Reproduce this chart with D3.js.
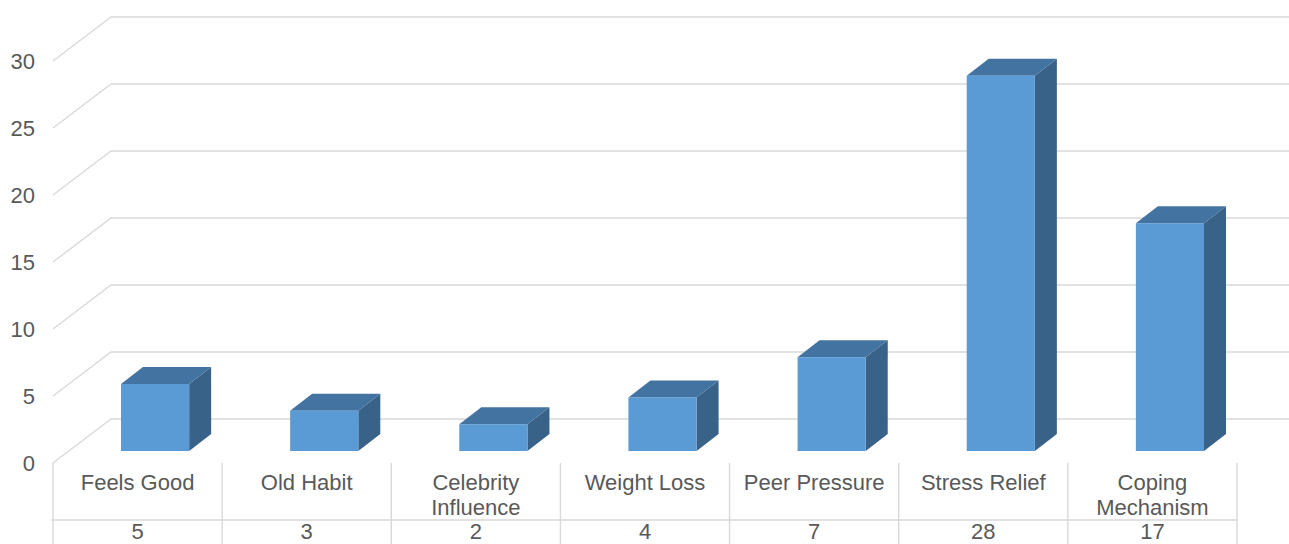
<!DOCTYPE html>
<html>
<head>
<meta charset="utf-8">
<script src="https://cdn.jsdelivr.net/npm/d3@7"></script>
<style>
  html, body { margin: 0; padding: 0; background: #ffffff; }
  svg { display: block; }
  text { font-family: "Liberation Sans", Arial, sans-serif; fill: #595959; }
</style>
</head>
<body>
<svg id="chart" width="1289" height="544"></svg>
<script>
// Reasons for smoking: survey counts
const categories = ["Feels Good", "Old Habit", "Celebrity Influence", "Weight Loss",
                    "Peer Pressure", "Stress Relief", "Coping Mechanism"];
const values = [5, 3, 2, 4, 7, 28, 17];
const yTicks = [0, 5, 10, 15, 20, 25, 30];

const svg = d3.select("#chart");
const W = 1289, H = 544;

// Floor front edge / back wall geometry (oblique 3D projection)
const left = 53, right = 1237;
const floorFrontY = 463;
const depth = { dx: 58, dy: -44 };        // floor front -> back wall
const barFront = { dx: 17.5, dy: -12 };   // floor front -> bar front plane
const barDepth = { dx: 22, dy: -17 };     // bar front -> bar back

const x = d3.scaleBand().domain(categories).range([left, right]).paddingInner(0).paddingOuter(0);
const y = d3.scaleLinear().domain([0, 30]).range([floorFrontY, floorFrontY - 30 * 13.4]);

const grid = svg.append("g").attr("stroke", "#d9d9d9").attr("stroke-width", 1.4).attr("fill", "none");

// Back wall horizontal lines and floor/side diagonals
yTicks.forEach(t => {
  const yf = y(t), yb = yf + depth.dy;
  grid.append("path")
    .attr("d", `M${left},${yf}L${left + depth.dx},${yb}L${W + 10},${yb}`);
});

// Value axis labels
svg.append("g").selectAll("text").data(yTicks).join("text")
  .attr("x", 35)
  .attr("y", d => y(d))
  .attr("dy", "0.35em")
  .attr("text-anchor", "end")
  .attr("font-size", 22)
  .text(d => d);

// Bars: side, top, then front face
const bw = x.bandwidth() * 0.403;
const bars = svg.append("g").selectAll("g").data(categories.map((c, i) => ({ c, v: values[i] }))).join("g");

bars.each(function(d) {
  const g = d3.select(this);
  const x0 = x(d.c) + (x.bandwidth() - bw) / 2 + barFront.dx;
  const x1 = x0 + bw;
  const yb = y(0) + barFront.dy;
  const yt = y(d.v) + barFront.dy;
  const ddx = barDepth.dx, ddy = barDepth.dy;
  // side face
  g.append("path")
    .attr("d", `M${x1},${yt}L${x1 + ddx},${yt + ddy}L${x1 + ddx},${yb + ddy}L${x1},${yb}Z`)
    .attr("fill", "#386287");
  // top face
  g.append("path")
    .attr("d", `M${x0},${yt}L${x0 + ddx},${yt + ddy}L${x1 + ddx},${yt + ddy}L${x1},${yt}Z`)
    .attr("fill", "#4373a1");
  // front face
  g.append("rect")
    .attr("x", x0).attr("y", yt)
    .attr("width", bw).attr("height", yb - yt)
    .attr("fill", "#5b9bd5");
});

// Data table below the floor
const table = svg.append("g");
const tableLines = table.append("g").attr("stroke", "#d9d9d9").attr("stroke-width", 1.4);
const rowSplit = 520;
const bounds = categories.map(c => x(c)).concat([right]);
bounds.forEach(b => {
  tableLines.append("line").attr("x1", b).attr("x2", b).attr("y1", floorFrontY).attr("y2", H + 5);
});
tableLines.append("line").attr("x1", left - 2).attr("x2", right).attr("y1", rowSplit).attr("y2", rowSplit);

// Category labels, wrapped to fit the column
const labelG = table.append("g").attr("font-size", 22).attr("text-anchor", "middle");
categories.forEach(c => {
  const cx = x(c) + x.bandwidth() / 2;
  const t = labelG.append("text").attr("x", cx).attr("y", 490).attr("font-size", 22);
  const words = c.split(" ");
  let line = [], lineNo = 0;
  let tspan = t.append("tspan").attr("x", cx).attr("y", 490);
  words.forEach(w => {
    line.push(w);
    tspan.text(line.join(" "));
    if (tspan.node().getComputedTextLength() > x.bandwidth() - 12 && line.length > 1) {
      line.pop();
      tspan.text(line.join(" "));
      line = [w];
      lineNo++;
      tspan = t.append("tspan").attr("x", cx).attr("y", 490 + lineNo * 25).text(w);
    }
  });
});

// Value row
table.append("g").selectAll("text").data(categories).join("text")
  .attr("x", c => x(c) + x.bandwidth() / 2)
  .attr("y", 539)
  .attr("text-anchor", "middle")
  .attr("font-size", 22)
  .text((c, i) => values[i]);
</script>
</body>
</html>
